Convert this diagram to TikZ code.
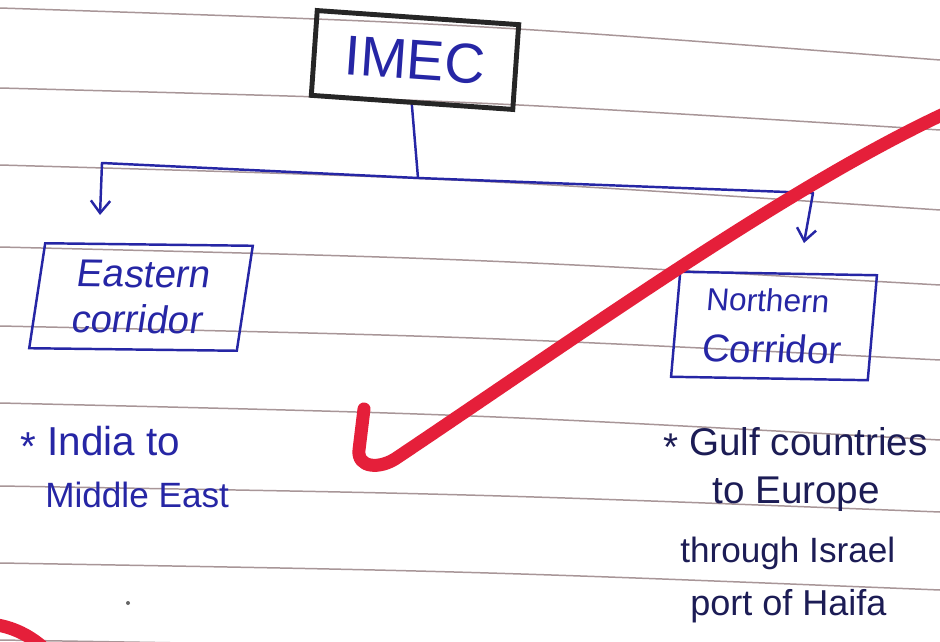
\documentclass[tikz,border=0pt]{standalone}
\usepackage{fontspec}
\setmainfont{Liberation Sans}
\usetikzlibrary{arrows.meta}
\definecolor{ink}{RGB}{38,38,165}
\definecolor{darkink}{RGB}{28,28,85}
\definecolor{rulecol}{RGB}{168,150,152}
\definecolor{boxline}{RGB}{38,38,38}
\definecolor{redmark}{RGB}{229,31,58}
\begin{document}
\begin{tikzpicture}[x=0.02cm,y=-0.02cm,
  ruleline/.style={rulecol, line width=0.85pt},
  topbox/.style={draw=boxline, line width=2.8pt, minimum width=4.04cm, minimum height=1.7cm, inner sep=0pt, text=ink, font=\fontsize{32}{36}\selectfont},
  subbox/.style={draw=ink, line width=1.4pt, inner sep=0pt, text=ink},
  link/.style={ink, line width=1.4pt, line join=round},
  arrowlink/.style={link, -{Straight Barb[length=7pt,width=11pt]}},
  note/.style={anchor=base west, inner sep=0pt, text=ink},
  rightnote/.style={note, text=darkink},
  tick/.style={redmark, line width=7.4pt, line cap=round, line join=round}]

\useasboundingbox (0,0) rectangle (940,642);
\fill[white] (0,0) rectangle (940,642);

% ruled paper lines
\foreach \a/\b in {8/60, 88/130, 165/210, 247/285, 326/360, 403/440, 486/512, 563/590, 640/665}
  \draw[ruleline] (0,\a) .. controls ({470},{\a+(\b-\a)*0.3}) .. (940,\b);

% boxes
\node[topbox, rotate=-4] (imec) at (415,60) {IMEC};
\node[subbox, minimum width=4.16cm, minimum height=2.1cm, xslant=0.14, rotate=-0.7,
      align=center, font=\fontsize{22}{26}\selectfont] (east) at (141,297) {Eastern\\corridor};
\node[subbox, minimum width=3.94cm, minimum height=2.1cm, xslant=0.07, rotate=-1,
      align=left, font=\fontsize{22}{29}\selectfont] (north) at (774,326)
      {{\fontsize{18}{22}\selectfont Northern}\\Corridor};

% connectors
\coordinate (j) at (418,178);
\coordinate (jl) at (102,163);
\coordinate (jr) at (813,193);
\coordinate (al) at (100,215);
\coordinate (ar) at (804,243);
\draw[link] (imec.south) -- (j);
\draw[arrowlink] (j) -- (jl) -- (al);
\draw[arrowlink] (j) -- (jr) -- (ar);

% notes
\node[note, font=\fontsize{23}{26}\selectfont] (n1) at (20,455) {\raisebox{-0.25ex}{*} India to};
\node[note, font=\fontsize{20}{24}\selectfont] (n2) at (45,507) {Middle East};
\node[rightnote, font=\fontsize{22}{24}\selectfont] (r1) at (663,455) {\raisebox{-0.25ex}{*} Gulf countries};
\node[rightnote, font=\fontsize{22}{24}\selectfont] (r2) at (712,503) {to Europe};
\node[rightnote, font=\fontsize{20}{24}\selectfont] (r3) at (680,562) {through Israel};
\node[rightnote, font=\fontsize{20.5}{24}\selectfont] (r4) at (690,615) {port of Haifa};

% stray dot
\fill[black!60] (128,603) circle[radius=0.04cm];

% red marks
\begin{scope}
  \clip (0,0) rectangle (940,642);
  \draw[tick] (364,409) -- (359,450) .. controls (357,468) and (380,470) .. (398,457)
        .. controls (580,335) and (790,185) .. (948,112);
  \draw[tick] (-10,624) .. controls (12,626) and (32,636) .. (48,652);
\end{scope}
\end{tikzpicture}
\end{document}
